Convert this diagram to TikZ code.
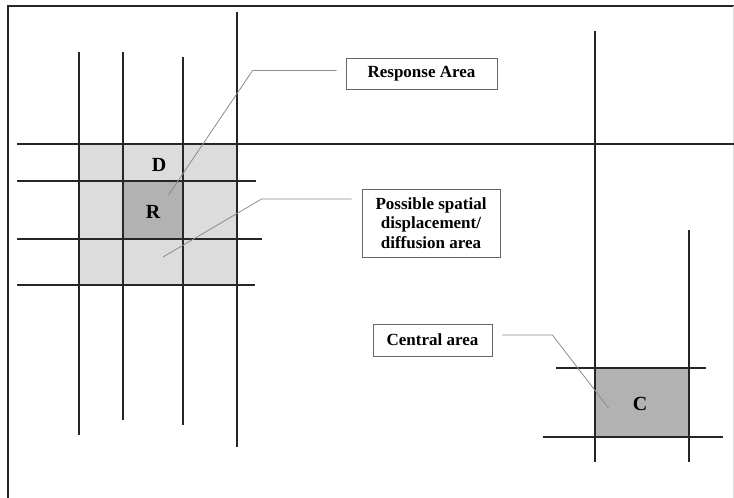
\documentclass[tikz,border=0pt]{standalone}
\usepackage{fontspec}
\setmainfont{Liberation Serif}
\usetikzlibrary{positioning}
\definecolor{celllight}{RGB}{220,220,220}
\definecolor{celldark}{RGB}{178,178,178}

\begin{document}
\begin{tikzpicture}[x=1pt,y=-1pt,
    road/.style={line width=1.6pt,black!85},
    callout/.style={line width=0.8pt,black!45},
    labelbox/.style={draw=black!60,line width=0.8pt,fill=white,align=center,
                     inner sep=2pt,font=\fontsize{17}{19.5}\selectfont\bfseries},
    cellmark/.style={font=\fontsize{20}{22}\selectfont\bfseries}]
  \useasboundingbox (0,0) rectangle (734,498);

  %% Frame
  \draw[line width=2.5pt,black!85] (8,498) -- (8,6) -- (734,6);
  \draw[black!15] (733,6) -- (733,498);

  %% Diffusion area, response cell and control cell
  \fill[celllight] (79,144) rectangle (237,285);
  \fill[celldark] (123,181) rectangle (183,239);
  \fill[celldark] (595,368) rectangle (689,437);

  %% Roads, left block
  \foreach \x/\ya/\yb in {79/52/435, 123/52/420, 183/57/425, 237/12/447}{
    \draw[road] (\x,\ya) -- (\x,\yb);
  }
  \foreach \y/\xb in {181/256, 239/262, 285/255}{
    \draw[road] (17,\y) -- (\xb,\y);
  }
  \draw[road] (17,144) -- (734,144);

  %% Roads, right block
  \draw[road] (595,31) -- (595,462);
  \draw[road] (689,230) -- (689,462);
  \draw[road] (556,368) -- (706,368);
  \draw[road] (543,437) -- (723,437);

  %% Cell letters
  \node[cellmark] (dmark) at (159,165) {D};
  \node[cellmark] (rmark) at (153,212) {R};
  \node[cellmark] (cmark) at (640,404) {C};

  %% Label boxes
  \node[labelbox,minimum width=151pt,minimum height=31pt]
        (resp) at (421.5,73.5) {Response Area};
  \node[labelbox,minimum width=138pt,minimum height=68pt]
        (diff) at (431,223) {Possible spatial\\displacement/\\diffusion area};
  \node[labelbox,minimum width=119pt,minimum height=32pt]
        (ctrl) at (432.5,340) {Central area};

  %% Callouts
  \coordinate (resptip) at (168.5,195);
  \coordinate (difftip) at (163,257);
  \coordinate (ctrltip) at (608.5,408);
  \draw[callout] ([shift={(-9pt,3pt)}]resp.west) -- ++(-84,0) -- (resptip);
  \draw[callout] ([shift={(-10pt,24pt)}]diff.west) -- ++(-90,0) -- (difftip);
  \draw[callout] ([shift={(10pt,5pt)}]ctrl.east) -- ++(50,0) -- (ctrltip);
\end{tikzpicture}
\end{document}
